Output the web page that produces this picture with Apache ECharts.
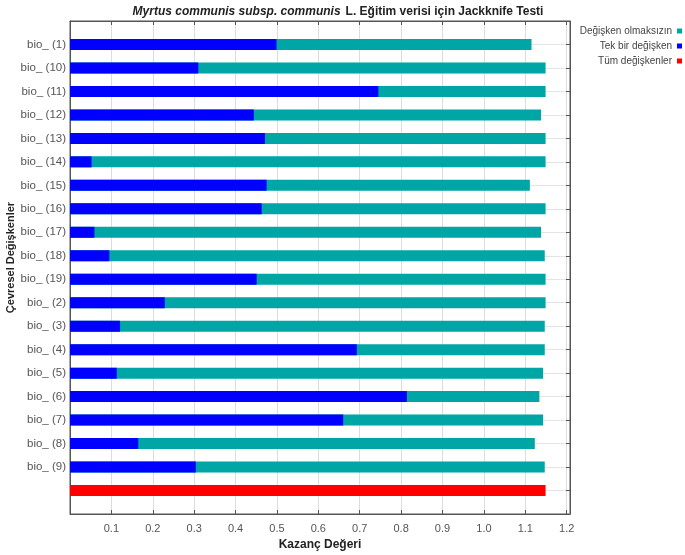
<!DOCTYPE html>
<html>
<head>
<meta charset="utf-8">
<script src="https://cdn.jsdelivr.net/npm/echarts@6/dist/echarts.min.js"></script>
<style>
  html, body { margin: 0; padding: 0; background: #fff; }
  #main { width: 685px; height: 555px; }
</style>
</head>
<body>
<div id="main"></div>
<script>
// değişken adları (üstten alta)
var categories = ['bio_ (1)', 'bio_ (10)', 'bio_ (11)', 'bio_ (12)', 'bio_ (13)', 'bio_ (14)', 'bio_ (15)',
  'bio_ (16)', 'bio_ (17)', 'bio_ (18)', 'bio_ (19)', 'bio_ (2)', 'bio_ (3)', 'bio_ (4)', 'bio_ (5)',
  'bio_ (6)', 'bio_ (7)', 'bio_ (8)', 'bio_ (9)'];
var withoutVar = [1.137, 1.171, 1.171, 1.160, 1.171, 1.171, 1.133, 1.171, 1.160, 1.169,
  1.171, 1.171, 1.169, 1.169, 1.165, 1.156, 1.165, 1.145, 1.169];
var onlyVar = [0.521, 0.332, 0.767, 0.466, 0.493, 0.074, 0.497, 0.485, 0.081, 0.117,
  0.473, 0.251, 0.143, 0.715, 0.135, 0.836, 0.682, 0.187, 0.326];
var allVars = 1.171;

var names = ['Değişken olmaksızın', 'Tek bir değişken', 'Tüm değişkenler'];
var colors = ['#00a6a6', '#0000ff', '#ff0000'];

// boş satırlar üst/alt boşluk için, 'all' satırı kırmızı çubuk
var yCats = [''].concat(categories, ['all', ' ']);
var cyanData = [null].concat(withoutVar, [null, null]);
var blueData = [null].concat(onlyVar, [null, null]);
var redData = yCats.map(function (c) { return c === 'all' ? allVars : null; });

var chart = echarts.init(document.getElementById('main'));
var option = {
  animation: false,
  textStyle: { fontFamily: 'Liberation Sans, Arial, sans-serif' },
  title: {
    text: '{i|Myrtus communis subsp. communis} {b|L. Eğitim verisi için Jackknife Testi}',
    left: 333, textAlign: 'center', top: 0, padding: [3, 5],
    textStyle: {
      rich: {
        i: { fontStyle: 'italic', fontWeight: 'bold', fontSize: 12, color: '#222' },
        b: { fontWeight: 'bold', fontSize: 12, color: '#222' }
      }
    }
  },
  legend: {
    data: names, orient: 'vertical', right: 3, top: 26, align: 'right', padding: 0,
    itemWidth: 5, itemHeight: 5, itemGap: 5, icon: 'rect',
    textStyle: { fontSize: 10, color: '#444' }
  },
  grid: { left: 70, right: 115, top: 21, bottom: 41, show: true, borderColor: '#555', borderWidth: 1,
    outerBoundsMode: 'none' },
  xAxis: [{
    type: 'value', min: 0.022, max: 1.23, interval: 0.1,
    name: 'Kazanç Değeri', nameLocation: 'middle', nameGap: 24,
    nameTextStyle: { fontWeight: 'bold', fontSize: 12, color: '#222' },
    axisLine: { show: true, lineStyle: { color: '#555' } },
    axisTick: { show: true, inside: true, length: 4, lineStyle: { color: '#555' } },
    axisLabel: { fontSize: 11, color: '#555', margin: 9, showMinLabel: false, showMaxLabel: false,
      formatter: function (v) { return v.toFixed(1); } },
    splitLine: { show: true, lineStyle: { color: '#ddd' } }
  }, {
    type: 'value', position: 'top', min: 0.022, max: 1.23, interval: 0.1,
    axisLine: { show: true, lineStyle: { color: '#555' } },
    axisTick: { show: true, inside: true, length: 4, lineStyle: { color: '#555' } },
    axisLabel: { show: false }, splitLine: { show: false }
  }],
  yAxis: [{
    type: 'category', data: yCats, inverse: true, boundaryGap: false,
    name: 'Çevresel Değişkenler', nameLocation: 'middle', nameGap: 54, nameRotate: 90,
    nameMoveOverlap: false,
    nameTextStyle: { fontWeight: 'bold', fontSize: 11, color: '#222', padding: [0, 0, 0, 20] },
    axisLine: { show: true, lineStyle: { color: '#555' } },
    axisTick: { show: false },
    axisLabel: { fontSize: 11.5, color: '#555', margin: 4,
      formatter: function (v) { return (v === 'all' || v.trim() === '') ? '' : v; } },
    splitLine: { show: true, lineStyle: { color: '#e4e4e4' } }
  }, {
    type: 'category', data: yCats, inverse: true, boundaryGap: false, position: 'right',
    axisLine: { show: true, lineStyle: { color: '#555' } },
    axisTick: { show: true, inside: true, length: 4, lineStyle: { color: '#555' } },
    axisLabel: { show: false }, splitLine: { show: false }
  }],
  series: [
    { name: names[0], type: 'bar', data: cyanData, barWidth: 11, barGap: '-100%',
      itemStyle: { color: colors[0] } },
    { name: names[1], type: 'bar', data: blueData, barWidth: 11, barGap: '-100%',
      itemStyle: { color: colors[1] } },
    { name: names[2], type: 'bar', data: redData, barWidth: 11, barGap: '-100%',
      itemStyle: { color: colors[2] } }
  ]
};
chart.setOption(option);
</script>
</body>
</html>
